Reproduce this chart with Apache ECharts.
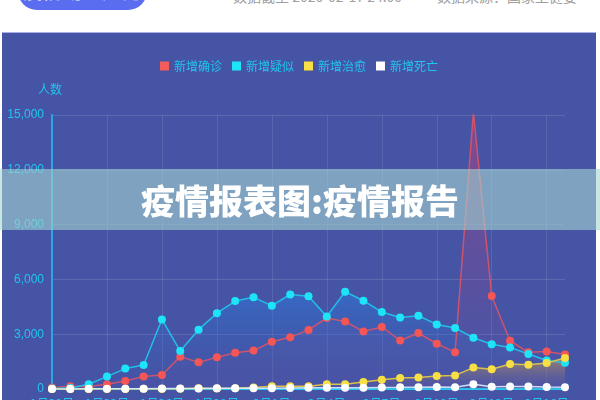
<!DOCTYPE html>
<html>
<head>
<meta charset="utf-8">
<script src="https://cdn.jsdelivr.net/npm/echarts@6/dist/echarts.min.js"></script>
<style>
  html, body { margin:0; padding:0; width:600px; height:400px; overflow:hidden; background:#fff; font-family:"Noto Sans CJK SC", sans-serif; }
  #btn { position:absolute; left:18px; top:-28px; width:129px; height:38px; border-radius:19px; background:#5a6cf0; color:#fff; font-size:20px; line-height:38px; text-align:center; }
  .info { position:absolute; top:-14px; font-size:14px; line-height:20px; color:#a0a0a0; white-space:nowrap; }
  #panel { position:absolute; left:2px; top:32px; width:594px; height:400px; background:#4654a6; border-top:1px solid #a9b0e6; }
  #chart { position:absolute; left:0; top:0; width:594px; height:400px; }
  #banner { position:absolute; left:0; top:169px; width:600px; height:61px; background:rgba(163,215,210,0.6); color:#fff; font-weight:900; font-size:34px; line-height:61px; text-align:center; z-index:10; }
</style>
</head>
<body>
<div id="btn">疫情动态趋势</div>
<div class="info" style="left:233px;">数据截至 2020-02-17 24:00</div>
<div class="info" style="left:437px;">数据来源：国家卫健委</div>
<div id="panel"><div id="chart"></div></div>
<div id="banner">疫情报表图:疫情报告</div>
<script>
const categories = ['1月20日','1月21日','1月22日','1月23日','1月24日','1月25日','1月26日','1月27日','1月28日','1月29日','1月30日','1月31日','2月1日','2月2日','2月3日','2月4日','2月5日','2月6日','2月7日','2月8日','2月9日','2月10日','2月11日','2月12日','2月13日','2月14日','2月15日','2月16日','2月17日'];
const confirmed = [77,149,131,259,444,688,769,1771,1459,1737,1982,2102,2590,2829,3235,3887,3694,3143,3399,2656,3062,2478,2015,15152,5090,2641,2009,2048,1886];
const suspected = [27,60,257,680,1118,1309,3806,2077,3248,4148,4812,5019,4562,5173,5072,3971,5328,4833,4214,3916,4008,3536,3342,2807,2450,2277,1918,1563,1432];
const cured = [0,0,6,6,3,11,2,9,43,21,47,85,157,147,157,262,261,387,510,600,632,716,744,1171,1081,1373,1323,1425,1701];
const deaths = [3,3,8,8,16,15,24,26,26,38,43,46,45,57,64,65,73,73,86,89,97,108,97,254,121,143,142,105,98];
const seriesNames = ['新增确诊','新增疑似','新增治愈','新增死亡'];
const yTicks = [0,3000,6000,9000,12000,15000];

const chart = echarts.init(document.getElementById('chart'), null, {renderer:'canvas'});
function grad(top, bottom){
  return new echarts.graphic.LinearGradient(0,0,0,1,[{offset:0,color:top},{offset:1,color:bottom}]);
}
function mk(name, data, dotColor, lineColor, areaTop, areaBottom){
  return {
    name, type:'line', data, symbol:'circle', symbolSize:8, showSymbol:true,
    itemStyle:{color:dotColor},
    lineStyle:{color:lineColor, width:1.5},
    areaStyle:{color:grad(areaTop, areaBottom)},
    emphasis:{disabled:true}, animation:false
  };
}
chart.setOption({
  backgroundColor:'transparent',
  animation:false,
  legend:{
    top:22, left:'center', itemWidth:9, itemHeight:9, itemGap:10,
    textStyle:{color:'#22c4ec', fontSize:12, fontFamily:'Noto Sans CJK SC'},
    data:seriesNames.map((n,i)=>({name:n, icon:'rect', itemStyle:{color:['#f45b5b','#1ee4f8','#f7df45','#ffffff'][i]}}))
  },
  grid:{left:50, right:31, top:82, bottom:44},
  xAxis:{
    type:'category', data:categories, boundaryGap:false,
    axisLine:{lineStyle:{color:'#28c8ee', width:2}},
    axisTick:{show:false},
    axisLabel:{color:'#22c4ec', fontSize:12, interval:2, margin:8, fontFamily:'Noto Sans CJK SC'},
    splitLine:{show:true, interval:2, lineStyle:{color:'rgba(255,255,255,0.1)'}}
  },
  yAxis:{
    type:'value', name:'人数', min:yTicks[0], max:yTicks[yTicks.length-1], interval:3000,
    nameTextStyle:{color:'#22c4ec', fontSize:12, padding:[0,0,4,-4], fontFamily:'Noto Sans CJK SC'},
    nameGap:16,
    axisLine:{show:true, lineStyle:{color:'#2aa6e4', width:2}},
    axisTick:{show:false},
    axisLabel:{color:'#22c4ec', fontSize:12, margin:8, formatter:v=>v.toLocaleString('en-US')},
    splitLine:{lineStyle:{color:'rgba(255,255,255,0.12)'}}
  },
  series:[
    mk(seriesNames[0], confirmed, '#f45656', 'rgba(228,84,100,0.85)', 'rgba(215,60,110,0.65)', 'rgba(120,80,160,0.1)'),
    mk(seriesNames[1], suspected, '#1ee4f8', '#22bfe8', 'rgba(40,125,225,0.75)', 'rgba(60,90,170,0.05)'),
    mk(seriesNames[2], cured, '#f7df45', '#d9c24a', 'rgba(220,170,60,0.8)', 'rgba(110,90,150,0.1)'),
    mk(seriesNames[3], deaths, '#ffffff', 'rgba(220,235,255,0.9)', 'rgba(255,255,255,0.05)', 'rgba(255,255,255,0)')
  ]
});
</script>
</body>
</html>
